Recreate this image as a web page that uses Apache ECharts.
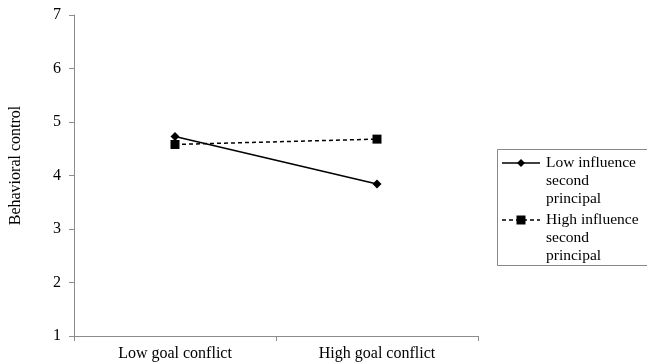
<!DOCTYPE html>
<html><head><meta charset="utf-8">
<script src="https://cdn.jsdelivr.net/npm/echarts@6/dist/echarts.min.js"></script>
<style>html,body{margin:0;padding:0;background:#fff}#c{width:647px;height:363px}</style>
</head><body><div id="c"></div>
<script>
var categories = ['Low goal conflict', 'High goal conflict'];
var lowInfluence = [4.73, 3.84];
var highInfluence = [4.58, 4.68];
var seriesNames = ['Low influence\nsecond\nprincipal', 'High influence\nsecond\nprincipal'];
var yTicks = [1, 2, 3, 4, 5, 6, 7];

var font = '"Liberation Serif", "Times New Roman", serif';
var chart = echarts.init(document.getElementById('c'));
var axisColor = '#8c8c8c';
chart.setOption({
  animation: false,
  backgroundColor: '#fff',
  grid: {left: 73, right: 169, top: 15, bottom: 27},
  xAxis: {
    type: 'category', data: categories, boundaryGap: true,
    axisLine: {lineStyle: {color: axisColor, width: 1}},
    axisTick: {show: true, length: 5, lineStyle: {color: axisColor}},
    axisLabel: {color: '#000', fontFamily: font, fontSize: 16, margin: 10}
  },
  yAxis: {
    type: 'value', min: yTicks[0], max: yTicks[yTicks.length - 1], interval: 1,
    name: 'Behavioral control', nameLocation: 'middle', nameGap: 50, nameRotate: 90,
    nameTextStyle: {color: '#000', fontFamily: font, fontSize: 16, padding: [0, 0, 0, 20]},
    axisLine: {show: true, lineStyle: {color: axisColor}},
    axisTick: {show: true, length: 5, lineStyle: {color: axisColor}},
    splitLine: {show: false},
    axisLabel: {color: '#000', fontFamily: font, fontSize: 16, margin: 13}
  },
  series: [
    {name: seriesNames[0], type: 'line', data: lowInfluence, symbol: 'diamond', symbolSize: 9,
     lineStyle: {color: '#000', width: 1.5}, itemStyle: {color: '#000'}},
    {name: seriesNames[1], type: 'line', data: highInfluence, symbol: 'rect', symbolSize: 9,
     lineStyle: {color: '#000', width: 1.5, type: [4, 3]}, itemStyle: {color: '#000'}}
  ],
  graphic: [
    {type: 'rect', shape: {x: 497.5, y: 149.5, width: 160, height: 116}, style: {fill: 'none', stroke: '#888', lineWidth: 1}},
    {type: 'line', shape: {x1: 502, y1: 163, x2: 540, y2: 163}, style: {stroke: '#000', lineWidth: 1.5}},
    {type: 'polygon', shape: {points: [[521, 159], [525, 163], [521, 167], [517, 163]]}, style: {fill: '#000'}},
    {type: 'text', left: 546, top: 154, style: {text: seriesNames[0], font: '15.5px ' + font, fill: '#000', lineHeight: 18}},
    {type: 'line', shape: {x1: 502, y1: 220, x2: 540, y2: 220}, style: {stroke: '#000', lineWidth: 1.5, lineDash: [4, 3]}},
    {type: 'rect', shape: {x: 516.5, y: 215.5, width: 9, height: 9}, style: {fill: '#000'}},
    {type: 'text', left: 546, top: 211, style: {text: seriesNames[1], font: '15.5px ' + font, fill: '#000', lineHeight: 18}}
  ]
});
</script></body></html>
